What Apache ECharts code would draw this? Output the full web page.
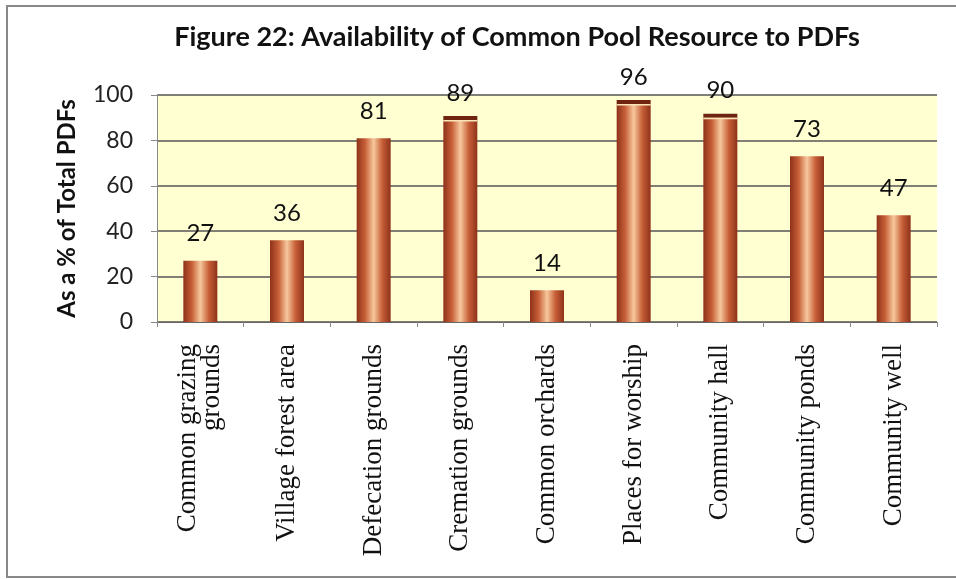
<!DOCTYPE html>
<html><head><meta charset="utf-8">
<script src="https://cdn.jsdelivr.net/npm/echarts@6/dist/echarts.min.js"></script>
<style>html,body{margin:0;padding:0;background:#fff}#c{width:956px;height:579px}</style>
</head><body><div id="c"></div>
<script>
const categories = ['Common grazing\ngrounds','Village forest area','Defecation grounds','Cremation grounds','Common orchards','Places for worship','Community hall','Community ponds','Community well'];
const values = [27, 36, 81, 89, 14, 96, 90, 73, 47];
const capped = [0, 0, 0, 1, 0, 1, 1, 0, 0];
const yTicks = [0, 20, 40, 60, 80, 100];

const chart = echarts.init(document.getElementById('c'));
const barGrad = new echarts.graphic.LinearGradient(0, 0, 1, 0, [
  {offset: 0, color: '#8e3219'},
  {offset: 0.25, color: '#c75f38'},
  {offset: 0.5, color: '#f7c89c'},
  {offset: 0.75, color: '#c75f38'},
  {offset: 1, color: '#8e3219'}
]);
chart.setOption({
  backgroundColor: '#fff',
  title: {
    text: 'Figure 22: Availability of Common Pool Resource to PDFs',
    left: 512, top: 19, textAlign: 'center',
    textStyle: {fontFamily: 'Lato', fontWeight: 'bold', fontSize: 27, color: '#111'}
  },
  graphic: [{type: 'rect', shape: {x: 7, y: 6, width: 1000, height: 571}, style: {fill: 'none', stroke: '#888', lineWidth: 2}, z: -1}],
  grid: {left: 157, right: 19, top: 95, bottom: 257, backgroundColor: '#ffffd2', show: true, borderWidth: 0},
  xAxis: {
    type: 'category', data: categories,
    axisLine: {lineStyle: {color: '#666'}},
    axisTick: {show: true, length: 5, lineStyle: {color: '#888'}},
    axisLabel: {rotate: 90, margin: 22, fontFamily: 'Liberation Serif', fontSize: 27, color: '#111', lineHeight: 24, interval: 0}
  },
  yAxis: {
    type: 'value', min: 0, max: 100, interval: 20,
    name: 'As a % of Total PDFs', nameLocation: 'middle', nameGap: 78,
    nameTextStyle: {fontFamily: 'Lato', fontWeight: 'bold', fontSize: 24, color: '#111'},
    axisLine: {show: true, lineStyle: {color: '#888'}},
    axisTick: {show: true, length: 6, lineStyle: {color: '#888'}},
    axisLabel: {margin: 24, fontFamily: 'Lato', fontSize: 23, color: '#222',
      formatter: v => yTicks.includes(v) ? String(v) : ''},
    splitLine: {lineStyle: {color: '#555', width: 1.5}}
  },
  series: [{
    type: 'bar', data: values, barWidth: 34,
    itemStyle: {color: barGrad},
    label: {show: true, position: 'top', distance: 15, fontFamily: 'Lato', fontSize: 24, color: '#111'}
  }, {
    type: 'custom', data: values.map((v, i) => [i, v, capped[i]]), z: 3,
    renderItem: (params, api) => {
      if (!api.value(2)) return null;
      const p = api.coord([api.value(0), api.value(1)]);
      return {type: 'group', children: [
        {type: 'rect', shape: {x: p[0] - 17, y: p[1] - 4, width: 34, height: 4}, style: {fill: '#6e2410'}},
        {type: 'rect', shape: {x: p[0] - 17, y: p[1], width: 34, height: 1.5}, style: {fill: '#fbe3b8'}}
      ]};
    }
  }]
});
</script></body></html>
